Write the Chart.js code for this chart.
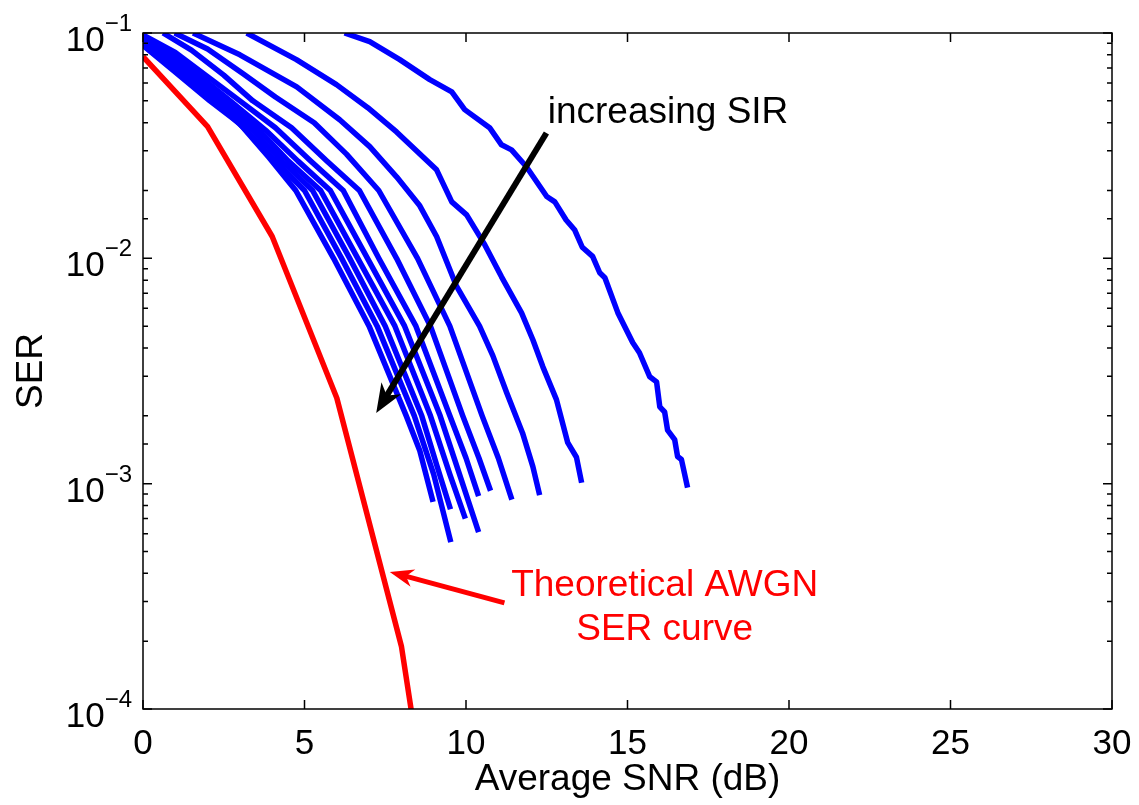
<!DOCTYPE html>
<html>
<head>
<meta charset="utf-8">
<script src="https://cdn.jsdelivr.net/npm/chart.js@4.4.0/dist/chart.umd.min.js"></script>
<style>
  body { margin: 0; background: #fff; }
</style>
</head>
<body>
<canvas id="ser_chart" width="1139" height="805"></canvas>
<script>
// theoretical AWGN curve
const snr_awgn = [0, 2, 4, 6, 8, 10];
const ser_awgn = [0.0785, 0.0384, 0.0125, 0.0024, 0.00019, 0.0000026];

// simulated curves, lowest SIR first
const snr_sir1 = [6.24, 7.02, 7.95, 8.88, 9.56, 9.96, 10.73, 11.1, 11.41, 11.87, 12.5, 12.75, 13.1, 13.36, 13.6, 13.92, 14.14, 14.3, 14.7, 15.16, 15.37, 15.69, 15.9, 16.0, 16.15, 16.24, 16.46, 16.55, 16.67, 16.86];
const ser_sir1 = [0.1, 0.0915, 0.0762, 0.0621, 0.0548, 0.0457, 0.038, 0.0319, 0.0303, 0.0255, 0.0188, 0.0178, 0.0148, 0.0134, 0.0112, 0.0102, 0.00863, 0.0082, 0.00574, 0.00423, 0.00381, 0.00298, 0.00283, 0.00219, 0.00208, 0.00173, 0.00157, 0.00132, 0.00128, 0.00096];

const snr_sir2 = [3.21, 4.75, 5.99, 6.96, 7.85, 9.09, 9.56, 10.02, 10.58, 11.1, 11.72, 12.07, 12.38, 12.8, 13.15, 13.42, 13.58];
const ser_sir2 = [0.1, 0.0762, 0.059, 0.0466, 0.0364, 0.0247, 0.0178, 0.0156, 0.0115, 0.00828, 0.00573, 0.00435, 0.0033, 0.00236, 0.00152, 0.00131, 0.00101];

const snr_sir3 = [1.55, 3.0, 4.76, 6.09, 7.02, 7.85, 8.57, 9.09, 9.71, 10.42, 10.83, 11.26, 11.75, 12.07, 12.28];
const ser_sir3 = [0.1, 0.08, 0.0577, 0.0412, 0.0313, 0.023, 0.0171, 0.0125, 0.0075, 0.005, 0.0037, 0.00253, 0.00168, 0.00119, 0.00089];

const snr_sir4 = [0.98, 2, 3.1, 4.1, 5.3, 6.3, 7.3, 8.5, 9.5, 10.5, 11.0, 11.42];
const ser_sir4 = [0.1, 0.085, 0.066, 0.052, 0.04, 0.029, 0.02, 0.01, 0.005, 0.002, 0.0013, 0.00085];

const snr_sir5 = [0.62, 1.5, 2.5, 3.4, 4.6, 5.7, 6.7, 7.85, 8.9, 9.9, 10.4, 10.76];
const ser_sir5 = [0.1, 0.084, 0.065, 0.05, 0.038, 0.027, 0.02, 0.01, 0.005, 0.002, 0.0013, 0.00093];

const snr_sir6 = [0, 1, 2, 3.0, 4.1, 5.2, 6.2, 7.3, 8.45, 9.5, 10.0, 10.39];
const ser_sir6 = [0.098, 0.082, 0.064, 0.05, 0.038, 0.027, 0.02, 0.01, 0.005, 0.002, 0.0013, 0.00088];

const snr_sir7 = [0, 1, 1.9, 2.7, 3.8, 4.8, 5.8, 6.95, 8.1, 9.2, 9.8, 10.39];
const ser_sir7 = [0.096, 0.078, 0.062, 0.05, 0.037, 0.027, 0.02, 0.01, 0.005, 0.002, 0.0011, 0.00061];

const snr_sir8 = [0, 1, 1.8, 2.5, 3.6, 4.5, 5.5, 6.65, 7.8, 8.9, 9.5, 9.98];
const ser_sir8 = [0.094, 0.075, 0.06, 0.05, 0.037, 0.027, 0.02, 0.01, 0.005, 0.002, 0.0011, 0.0007];

const snr_sir9 = [0, 1, 1.7, 2.35, 3.4, 4.3, 5.25, 6.4, 7.5, 8.63, 9.1, 9.52];
const ser_sir9 = [0.092, 0.072, 0.06, 0.05, 0.037, 0.027, 0.02, 0.01, 0.005, 0.002, 0.0012, 0.00077];

const snr_sir10 = [0, 1, 1.6, 2.2, 3.2, 4.1, 5.0, 6.15, 7.25, 8.4, 9.0, 9.53];
const ser_sir10 = [0.09, 0.07, 0.059, 0.05, 0.037, 0.027, 0.02, 0.01, 0.005, 0.002, 0.0011, 0.00055];

const snr_sir11 = [0, 1, 2.07, 3, 3.9, 4.73, 5.9, 7.0, 8.15, 8.57, 8.98];
const ser_sir11 = [0.088, 0.067, 0.05, 0.0395, 0.028, 0.02, 0.01, 0.005, 0.002, 0.0014, 0.00083];

const x_ticks = [0, 5, 10, 15, 20, 25, 30];
const y_ticks = [0.0001, 0.001, 0.01, 0.1];

const blue_curves = [
  [snr_sir1, ser_sir1], [snr_sir2, ser_sir2], [snr_sir3, ser_sir3],
  [snr_sir4, ser_sir4], [snr_sir5, ser_sir5], [snr_sir6, ser_sir6],
  [snr_sir7, ser_sir7], [snr_sir8, ser_sir8], [snr_sir9, ser_sir9],
  [snr_sir10, ser_sir10], [snr_sir11, ser_sir11],
];

const FONT = '"Liberation Sans", Arial, sans-serif';

function to_points(snr, ser) {
  return snr.map((x, i) => ({ x: x, y: ser[i] }));
}

function curve(snr, ser, color) {
  return {
    data: to_points(snr, ser),
    borderColor: color,
    backgroundColor: color,
    borderWidth: 5.5,
    pointRadius: 0,
    tension: 0,
    fill: false,
    clip: 0,
    borderJoinStyle: 'round',
  };
}

function draw_arrow(ctx, x0, y0, x1, y1, color, width, head_len, head_half) {
  const ang = Math.atan2(y1 - y0, x1 - x0);
  const c = Math.cos(ang), s = Math.sin(ang);
  ctx.strokeStyle = color;
  ctx.fillStyle = color;
  ctx.lineWidth = width;
  ctx.lineCap = 'butt';
  ctx.beginPath();
  ctx.moveTo(x0, y0);
  ctx.lineTo(x1 - c * head_len * 0.6, y1 - s * head_len * 0.6);
  ctx.stroke();
  const bx = x1 - c * head_len, by = y1 - s * head_len;
  ctx.beginPath();
  ctx.moveTo(x1, y1);
  ctx.lineTo(bx - s * head_half, by + c * head_half);
  ctx.lineTo(x1 - c * head_len * 0.7, y1 - s * head_len * 0.7);
  ctx.lineTo(bx + s * head_half, by - c * head_half);
  ctx.closePath();
  ctx.fill();
}

// box, inward ticks, tick labels and notes in the matlab look
const matlab_axes = {
  id: 'matlab_axes',
  afterDatasetsDraw(chart) {
    const ctx = chart.ctx;
    const a = chart.chartArea;
    const xs = chart.scales.x, ys = chart.scales.y;
    ctx.save();

    ctx.strokeStyle = '#000';
    ctx.lineWidth = 1.5;
    ctx.beginPath();
    x_ticks.forEach(v => {
      const px = xs.getPixelForValue(v);
      ctx.moveTo(px, a.bottom); ctx.lineTo(px, a.bottom - 9);
      ctx.moveTo(px, a.top); ctx.lineTo(px, a.top + 9);
    });
    ys.ticks.forEach(t => {
      const py = ys.getPixelForValue(t.value);
      const len = t.major ? 9 : 5;
      ctx.moveTo(a.left, py); ctx.lineTo(a.left + len, py);
      ctx.moveTo(a.right, py); ctx.lineTo(a.right - len, py);
    });
    ctx.stroke();
    ctx.strokeRect(a.left, a.top, a.right - a.left, a.bottom - a.top);

    // tick labels
    ctx.fillStyle = '#000';
    ctx.font = '35px ' + FONT;
    ctx.textAlign = 'center';
    ctx.textBaseline = 'alphabetic';
    x_ticks.forEach(v => {
      ctx.fillText(String(v), xs.getPixelForValue(v), a.bottom + 45);
    });
    y_ticks.forEach(v => {
      const py = ys.getPixelForValue(v);
      const sup = '\u2212' + Math.abs(Math.round(Math.log10(v)));
      ctx.font = '24px ' + FONT;
      const sw = ctx.measureText(sup).width;
      const right = a.left - 11;
      ctx.textAlign = 'left';
      ctx.fillText(sup, right - sw, py - 2);
      ctx.font = '35px ' + FONT;
      ctx.textAlign = 'right';
      ctx.fillText('10', right - sw, py + 18);
    });

    // axis titles
    ctx.font = '37px ' + FONT;
    ctx.textAlign = 'center';
    ctx.fillText('Average SNR (dB)', (a.left + a.right) / 2, a.bottom + 81);
    ctx.save();
    ctx.translate(42, (a.top + a.bottom) / 2);
    ctx.rotate(-Math.PI / 2);
    ctx.fillText('SER', 0, 0);
    ctx.restore();

    // annotations
    draw_arrow(ctx, xs.getPixelForValue(12.49), ys.getPixelForValue(0.036),
      xs.getPixelForValue(7.22), ys.getPixelForValue(0.00206), '#000', 6, 29, 11.5);
    ctx.fillStyle = '#000';
    ctx.font = '37px ' + FONT;
    ctx.textAlign = 'left';
    ctx.fillText('increasing SIR', xs.getPixelForValue(12.53), ys.getPixelForValue(0.04));

    draw_arrow(ctx, xs.getPixelForValue(11.19), ys.getPixelForValue(0.000296),
      xs.getPixelForValue(7.64), ys.getPixelForValue(0.000406), '#FF0000', 5, 24, 9);
    ctx.fillStyle = '#FF0000';
    ctx.textAlign = 'center';
    ctx.fillText('Theoretical AWGN', xs.getPixelForValue(16.15), ys.getPixelForValue(0.000318));
    ctx.fillText('SER curve', xs.getPixelForValue(16.15), ys.getPixelForValue(0.000203));

    ctx.restore();
  }
};

const datasets = blue_curves.map(([s, e]) => curve(s, e, '#0000FF'));
datasets.push(curve(snr_awgn, ser_awgn, '#FF0000'));

const config_ser_chart = {
  type: 'line',
  data: { datasets: datasets },
  options: {
    responsive: false,
    animation: false,
    devicePixelRatio: 1,
    layout: { padding: { top: 33, right: 27, left: 0, bottom: 0 } },
    plugins: { legend: { display: false }, tooltip: { enabled: false } },
    scales: {
      x: {
        type: 'linear',
        min: 0,
        max: 30,
        grid: { display: false, drawTicks: false },
        border: { display: false },
        ticks: { display: false, stepSize: 5 },
        afterFit(scale) { scale.height = 96; },
      },
      y: {
        type: 'logarithmic',
        min: 0.0001,
        max: 0.1,
        grid: { display: false, drawTicks: false },
        border: { display: false },
        ticks: { display: false },
        afterFit(scale) { scale.width = 143; },
      },
    },
  },
  plugins: [matlab_axes],
};

const ser_chart = new Chart(document.getElementById('ser_chart'), config_ser_chart);
</script>
</body>
</html>
